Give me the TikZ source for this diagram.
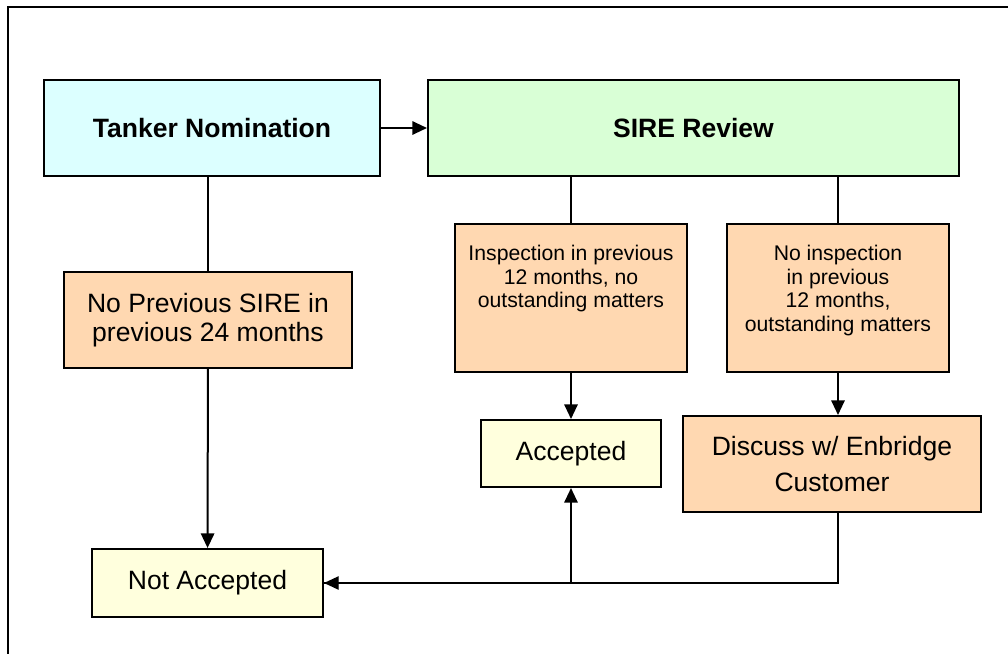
\documentclass[tikz,border=0pt]{standalone}
\usepackage{fontspec}
\setmainfont{Liberation Sans}
\usetikzlibrary{arrows.meta,calc}
\definecolor{nomcyan}{HTML}{DCFFFF}
\definecolor{revgreen}{HTML}{D9FFD6}
\definecolor{condorange}{HTML}{FFD8B1}
\definecolor{resyellow}{HTML}{FFFFDD}
\tikzset{
  box/.style={draw, line width=1.5pt, inner sep=0pt, align=center,
    font=\fontsize{19.9pt}{22pt}\selectfont},
  smalltext/.style={inner sep=0pt, align=center, anchor=north,
    font=\fontsize{15.9pt}{17.6pt}\selectfont},
  link/.style={line width=1.5pt},
  flow/.style={line width=1.5pt, -{Triangle[length=11pt,width=10pt]}},
}

\begin{document}
\begin{tikzpicture}[x=0.75pt, y=-0.75pt]
    \useasboundingbox (0,0) rectangle (1008,654);
    % frame (only top and left edge show)
    \draw [line width=2pt] (8,654) -- (8,7) -- (1008,7);

    % boxes
    \node [box, fill=nomcyan, minimum width=252pt, minimum height=72pt, font=\bfseries\fontsize{19.9pt}{22pt}\selectfont]
      (tanker) at (212,128) {Tanker Nomination};
    \node [box, fill=revgreen, minimum width=398.25pt, minimum height=72pt, font=\bfseries\fontsize{19.9pt}{22pt}\selectfont]
      (sire) at (693.5,128) {SIRE Review};
    \node [box, fill=condorange, minimum width=216pt, minimum height=72pt]
      (noprev) at (208,320) {No Previous SIRE in\\previous 24 months};
    \node [box, fill=condorange, minimum width=174pt, minimum height=111pt]
      (insp) at (571,298) {};
    \node [smalltext] (insptext) at (571,245)
      {Inspection in previous\\12 months, no\\outstanding matters};
    \node [box, fill=condorange, minimum width=166.5pt, minimum height=111pt]
      (noinsp) at (838,298) {};
    \node [smalltext] (noinsptext) at (838,245)
      {No inspection\\in previous\\12 months,\\outstanding matters};
    \node [box, fill=resyellow, minimum width=135pt, minimum height=50.25pt]
      (accepted) at (571,453.5) {Accepted};
    \node [box, fill=condorange, minimum width=223.5pt, minimum height=72pt, font=\fontsize{19.9pt}{27.5pt}\selectfont]
      (discuss) at (832,464) {Discuss w/ Enbridge\\Customer};
    \node [box, fill=resyellow, minimum width=173.25pt, minimum height=51pt]
      (notacc) at (207.5,583) {Not Accepted};

    % connectors
    \draw [flow] (tanker) -- (sire);
    \draw [link] (noprev.north |- tanker.south) -- (noprev.north);
    \draw [flow] (noprev) -- (notacc);
    \draw [link] (insp.north |- sire.south) -- (insp.north);
    \draw [link] (noinsp.north |- sire.south) -- (noinsp.north);
    \draw [flow] (insp) -- (accepted);
    \draw [flow] (noinsp.south) -- (noinsp.south |- discuss.north);
    \coordinate (tail) at (noinsp.south |- discuss.south);
    \coordinate (split) at (accepted.south |- notacc.east);
    \draw [flow, line width=1pt] (tail) |- (notacc.east);
    \draw [link] (split) -- (notacc.east);
    \draw [flow] (split) -- (accepted.south);
\end{tikzpicture}
\end{document}
